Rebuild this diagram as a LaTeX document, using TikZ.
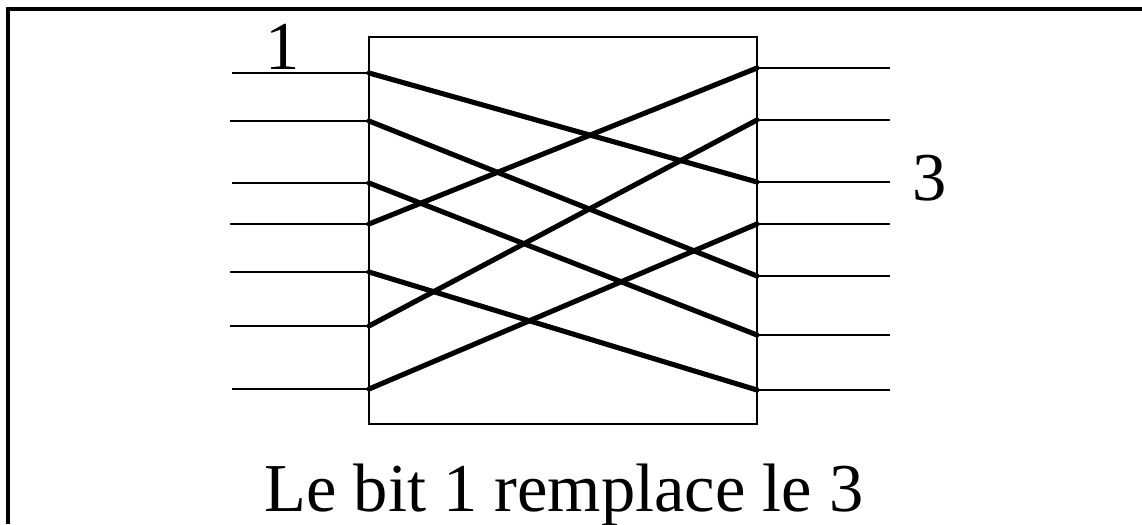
\documentclass[tikz,border=0pt]{standalone}
\usepackage{fontspec}
\setmainfont{Liberation Serif}
\usetikzlibrary{positioning,calc}

\begin{document}
\begin{tikzpicture}[x=0.02cm,y=-0.02cm,
  frame/.style={line width=2.2pt},
  wire/.style={line width=1.6pt},
  cross/.style={line width=2.9pt,line cap=round},
  lbl/.style={font=\fontsize{39}{42}\selectfont,inner sep=0pt}]
  \useasboundingbox (0,0) rectangle (1142,524);
  % page frame, cut off at right and bottom
  \draw[frame] (8,524) -- (8,9) -- (1142,9);

  % the permutation box
  \node[draw,line width=1.6pt,minimum width=7.76cm,minimum height=7.74cm,inner sep=0pt] (box) at (563,230.5) {};

  % input wires (left) and output wires (right)
  \foreach \i/\yl/\xl in {1/73/232,2/121/230,3/183/232,4/224/230,5/272/230,6/326/230,7/389/232}
    {\coordinate (in\i) at (369,\yl);
     \draw[wire] (\xl,\yl) -- (in\i);}
  \foreach \i/\yr in {1/68,2/120,3/182,4/224,5/276,6/335,7/390}
    {\coordinate (out\i) at (757,\yr);
     \draw[wire] (out\i) -- (890,\yr);}

  % crossings inside the box
  \foreach \a/\b in {1/3,2/5,3/6,4/1,5/7,6/2,7/4}
    \draw[cross] (in\a) -- (out\b);

  % labels
  \node[lbl,anchor=base] (one) at (283,69) {1};
  \node[lbl,anchor=base] (three) at (930,200) {3};
  \node[lbl,anchor=base] (caption) at (564,511) {Le bit 1 remplace le 3};
\end{tikzpicture}
\end{document}
